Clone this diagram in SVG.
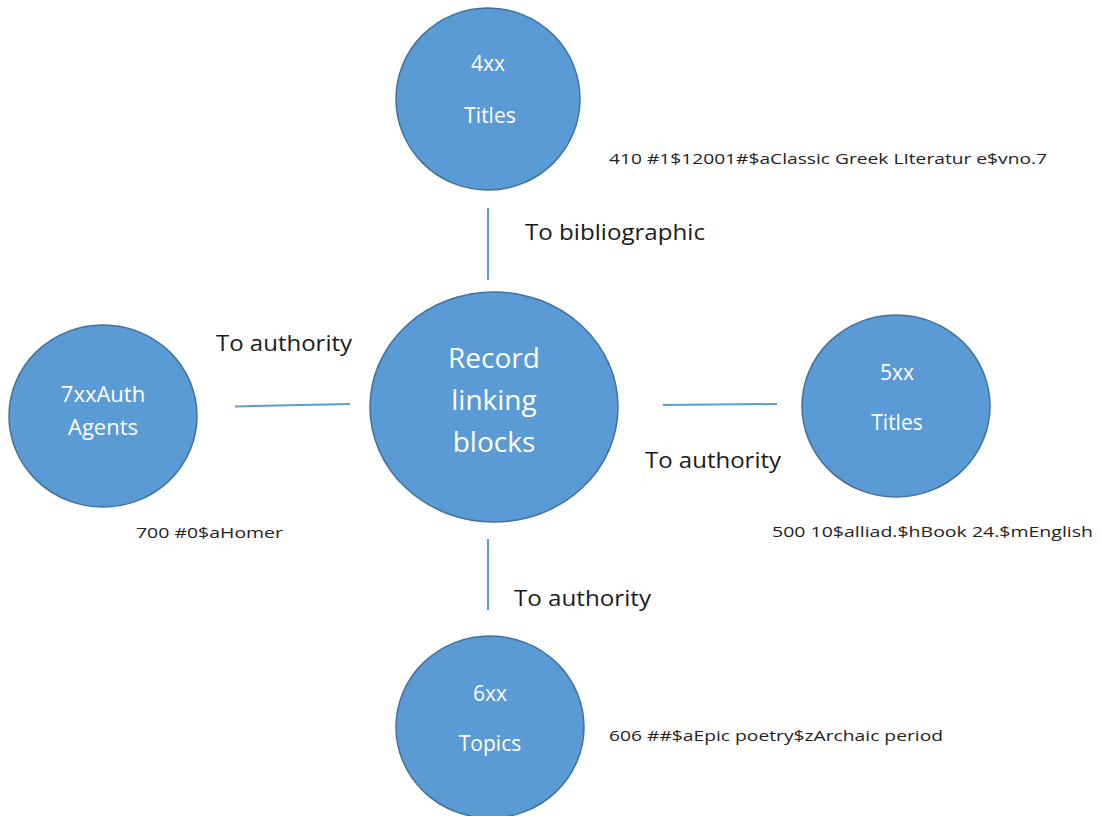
<svg xmlns="http://www.w3.org/2000/svg" width="1102" height="816" viewBox="0 0 1102 816">
<style>
.node{fill:#5B9BD5;stroke:#41719C;stroke-width:1.5}
.nt{fill:#ffffff;font-family:"Open Sans","DejaVu Sans",sans-serif;text-anchor:middle;dominant-baseline:central}
.lbl{fill:#1a1a1a;font-family:"Open Sans","DejaVu Sans",sans-serif;font-size:22px}
.note{fill:#222222;font-family:"Open Sans","DejaVu Sans",sans-serif;font-size:15px;dominant-baseline:central}
.conn{stroke:#5B9BD5;stroke-width:2;fill:none}
</style>
<rect width="1102" height="816" fill="#ffffff"/>
<g id="connectors">
<line class="conn" x1="488" y1="208" x2="488" y2="280"/>
<line class="conn" x1="488" y1="539" x2="488" y2="610"/>
<line class="conn" x1="235" y1="406.5" x2="350" y2="404"/>
<line class="conn" x1="663" y1="405" x2="777" y2="404"/>
</g>
<g id="labels">
<text class="lbl" x="525" y="240" textLength="180" lengthAdjust="spacingAndGlyphs">To bibliographic</text>
<text class="lbl" x="216" y="351" textLength="136" lengthAdjust="spacingAndGlyphs">To authority</text>
<text class="lbl" x="645" y="468" textLength="136" lengthAdjust="spacingAndGlyphs">To authority</text>
<text class="lbl" x="514" y="606" textLength="137" lengthAdjust="spacingAndGlyphs">To authority</text>
</g>
<g id="node-center">
<ellipse class="node" cx="494" cy="407" rx="124" ry="115"/>
<text class="nt" x="494" y="357" font-size="28">Record</text>
<text class="nt" x="494" y="399" font-size="28">linking</text>
<text class="nt" x="494" y="441" font-size="28">blocks</text>
</g>
<g id="node-4xx">
<ellipse class="node" cx="488" cy="99" rx="92" ry="91"/>
<text class="nt" x="488" y="63" font-size="21">4xx</text>
<text class="nt" x="490" y="115" font-size="21">Titles</text>
<text class="note" x="609" y="158" textLength="438" lengthAdjust="spacingAndGlyphs">410 #1$12001#$aClassic Greek LIteratur e$vno.7</text>
</g>
<g id="node-7xx">
<ellipse class="node" cx="103" cy="416" rx="94" ry="91"/>
<text class="nt" x="103" y="393" font-size="22">7xxAuth</text>
<text class="nt" x="103" y="426" font-size="22">Agents</text>
<text class="note" x="136" y="532" textLength="147" lengthAdjust="spacingAndGlyphs">700 #0$aHomer</text>
</g>
<g id="node-5xx">
<ellipse class="node" cx="896" cy="406" rx="94" ry="91"/>
<text class="nt" x="897" y="372" font-size="21">5xx</text>
<text class="nt" x="897" y="422" font-size="21">Titles</text>
<text class="note" x="772" y="531" textLength="321" lengthAdjust="spacingAndGlyphs">500 10$alliad.$hBook 24.$mEnglish</text>
</g>
<g id="node-6xx">
<ellipse class="node" cx="490" cy="727" rx="94" ry="91"/>
<text class="nt" x="490" y="693" font-size="21">6xx</text>
<text class="nt" x="490" y="743" font-size="21">Topics</text>
<text class="note" x="609" y="735" textLength="334" lengthAdjust="spacingAndGlyphs">606 ##$aEpic poetry$zArchaic period</text>
</g>
</svg>
